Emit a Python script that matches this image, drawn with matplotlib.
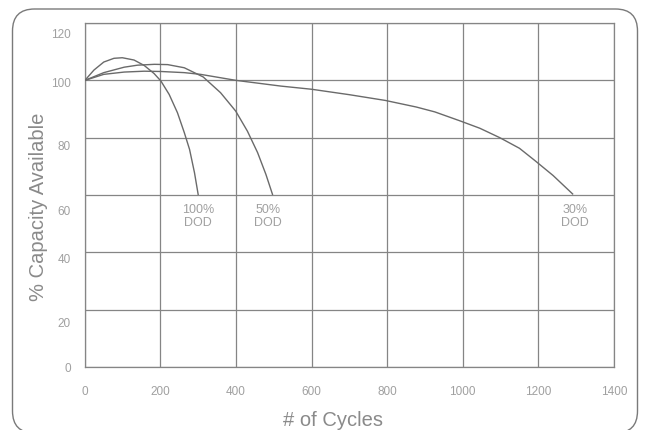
import matplotlib
matplotlib.use("Agg")
import matplotlib.pyplot as plt
import matplotlib.transforms as mtransforms
from matplotlib.patches import FancyBboxPatch

# ---- data ----
x_tick_vals = [0, 200, 400, 600, 800, 1000, 1200, 1400]
y_tick_vals = [0, 20, 40, 60, 80, 100, 120]

dod100_x = [0, 24, 50, 77, 99, 130, 157, 183, 201, 223, 245, 263, 277, 290, 300]
dod100_y = [100, 103.6, 106.4, 107.7, 107.9, 107.1, 105.2, 102.4, 99.8, 95.1,
            88.7, 81.8, 75.9, 67.8, 60]

dod50_x = [0, 50, 104, 139, 184, 219, 263, 313, 359, 399, 430, 457, 479, 497]
dod50_y = [100, 102.7, 104.6, 105.3, 105.6, 105.5, 104.4, 101.2, 95.7, 89.3,
           82.3, 74.8, 67.2, 60]

dod30_x = [0, 50, 104, 157, 201, 263, 306, 400, 519, 600, 700, 795, 877, 926,
           992, 1045, 1098, 1150, 1191, 1239, 1292]
dod30_y = [100, 102.1, 102.9, 103.2, 103.1, 102.7, 102.1, 100.0, 98.0, 96.9,
           95.0, 93.0, 90.7, 89.0, 85.9, 83.3, 80.0, 76.3, 72.0, 66.8, 60.2]

series_labels = ["100%\nDOD", "50%\nDOD", "30%\nDOD"]
label_x = [300, 485, 1296]
label_y = 53

FONT = ["Liberation Sans", "DejaVu Sans"]
plt.rcParams["font.family"] = FONT

fig = plt.figure(figsize=(6.46, 4.31), dpi=100)
ax = fig.add_axes([0.1314, 0.1462, 0.819, 0.798])

line_col = "#6a6a6a"
grid_col = "#858585"
tick_col = "#a0a0a0"
text_col = "#8a8a8a"

for xs, ys in [(dod100_x, dod100_y), (dod50_x, dod50_y), (dod30_x, dod30_y)]:
    ax.plot(xs, ys, color=line_col, lw=1.0, solid_joinstyle="round",
            solid_capstyle="butt", antialiased=True, zorder=3)

for lab, lx in zip(series_labels, label_x):
    ax.text(lx, label_y, lab, ha="center", va="center", fontsize=9,
            color=tick_col, linespacing=1.1)

ax.set_xlim(0, 1400)
ax.set_ylim(0, 120)
ax.set_xticks(x_tick_vals)
ax.set_yticks(y_tick_vals)
ax.grid(True, color=grid_col, lw=0.9)
ax.set_axisbelow(True)
for sp in ax.spines.values():
    sp.set_color(grid_col)
    sp.set_linewidth(0.9)
ax.tick_params(axis="both", length=0, labelsize=8.5, labelcolor=tick_col)
ax.tick_params(axis="x", pad=13)
ax.tick_params(axis="y", pad=10)

# per-label vertical offsets (pixels) as in the reference
y_offsets = {0: 0, 20: 12, 40: 5, 60: 14, 80: 7, 100: 1, 120: 9}
for val, lbl in zip(y_tick_vals, ax.get_yticklabels()):
    off = mtransforms.ScaledTranslation(0, -y_offsets[val] / 100.0, fig.dpi_scale_trans)
    lbl.set_transform(lbl.get_transform() + off)

fig.text(333 / 646, 1 - 421 / 431, "# of Cycles", ha="center", va="center",
         fontsize=14.5, color=text_col)
fig.text(39 / 646, 1 - 207 / 431, "% Capacity Available", ha="center",
         va="center", rotation=90, fontsize=14.5, color=text_col)

border = FancyBboxPatch((12.5, -3), 625, 424,
                        boxstyle="round,pad=0,rounding_size=22",
                        transform=None, fill=False, ec="#7a7a7a", lw=1.0)
fig.patches.append(border)

fig.savefig("out.png", dpi=100)
